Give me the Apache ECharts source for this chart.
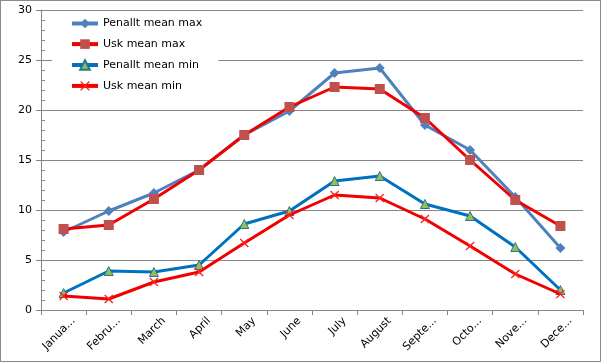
<!DOCTYPE html>
<html><head><meta charset="utf-8">
<script src="https://cdn.jsdelivr.net/npm/echarts@6/dist/echarts.min.js"></script>
<style>
html,body{margin:0;padding:0;background:#fff;}
#wrap{width:601px;height:362px;box-sizing:border-box;border:1px solid #8c8c8c;position:relative;}
#c{position:absolute;left:-1px;top:-1px;width:601px;height:362px;}
</style></head>
<body><div id="wrap"><div id="c"></div></div>
<script>
const months = ["January","February","March","April","May","June","July","August","September","October","November","December"];
const monthLabels = ["Janua...","Febru...","March","April","May","June","July","August","Septe...","Octo...","Nove...","Dece..."];
const penalltMax = [7.8, 9.9, 11.7, 14.0, 17.5, 19.9, 23.7, 24.2, 18.5, 16.0, 11.3, 6.2];
const uskMax     = [8.1, 8.5, 11.1, 14.0, 17.5, 20.3, 22.3, 22.1, 19.2, 15.0, 11.0, 8.4];
const penalltMin = [1.7, 3.9, 3.8, 4.5, 8.6, 9.9, 12.9, 13.4, 10.6, 9.4, 6.3, 2.0];
const uskMin     = [1.4, 1.1, 2.8, 3.8, 6.7, 9.5, 11.5, 11.2, 9.1, 6.4, 3.6, 1.6];
const yTicks = [0, 5, 10, 15, 20, 25, 30];

const xPath = 'path://M0,1L1,0L5,4L9,0L10,1L6,5L10,9L9,10L5,6L1,10L0,9L4,5Z';
const font = 'DejaVu Sans';

const chart = echarts.init(document.getElementById('c'), null, {renderer:'canvas'});
chart.setOption({
  animation:false,
  backgroundColor:'transparent',
  textStyle:{fontFamily:font},
  grid:{left:41, right:18, top:10, bottom:52, containLabel:false},
  legend:{
    orient:'vertical', left:52, top:13,
    padding:[5,16,5,18], backgroundColor:'#fff',
    itemWidth:26, itemHeight:12, itemGap:9.6,
    lineStyle:{width:4},
    textStyle:{fontFamily:font, fontSize:11, color:'#000'},
    data:['Penallt mean max','Usk mean max','Penallt mean min','Usk mean min']
  },
  xAxis:{
    type:'category', data:months, boundaryGap:true,
    axisLine:{lineStyle:{color:'#868686', width:1}},
    axisTick:{show:true, length:5, alignWithLabel:false, lineStyle:{color:'#868686'}},
    axisLabel:{rotate:45, fontFamily:font, fontSize:11, color:'#000', margin:19, interval:0,
      padding:[0,-14,0,0],
      formatter:(v,i)=>monthLabels[i]},
    splitLine:{show:false}
  },
  yAxis:{
    type:'value', min:yTicks[0], max:yTicks[yTicks.length-1], interval:5,
    axisLine:{show:true, lineStyle:{color:'#868686'}},
    axisTick:{show:true, length:5, lineStyle:{color:'#868686'}},
    minorTick:{show:true, splitNumber:5, length:-4, lineStyle:{color:'#868686'}},
    axisLabel:{fontFamily:font, fontSize:11, color:'#000', margin:9},
    splitLine:{show:true, lineStyle:{color:'#868686', width:1}}
  },
  series:[
    {name:'Penallt mean max', type:'line', data:penalltMax, symbol:'diamond', symbolSize:10,
      lineStyle:{color:'#4f81bd', width:3}, itemStyle:{color:'#4f81bd'}, z:2},
    {name:'Usk mean max', type:'line', data:uskMax, symbol:'rect', symbolSize:10,
      lineStyle:{color:'#f00000', width:3}, itemStyle:{color:'#c0504d'}, z:3},
    {name:'Penallt mean min', type:'line', data:penalltMin, symbol:'triangle', symbolSize:9,
      lineStyle:{color:'#0070c0', width:3}, itemStyle:{color:'#9bbb59', borderColor:'#1f7a8c', borderWidth:1}, z:4},
    {name:'Usk mean min', type:'line', data:uskMin, symbol:xPath, symbolSize:9,
      lineStyle:{color:'#f00000', width:3}, itemStyle:{color:'#ff2020'}, z:5}
  ]
});
</script></body></html>
